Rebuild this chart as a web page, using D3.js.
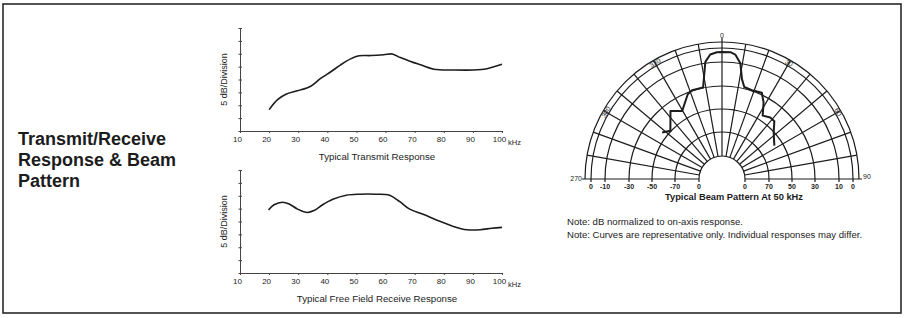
<!DOCTYPE html>
<html>
<head>
<meta charset="utf-8">
<script src="https://cdn.jsdelivr.net/npm/d3@7"></script>
<style>
  body { margin: 0; background: #fff; }
  svg { font-family: "Liberation Sans", Arial, sans-serif; }
  svg text { fill: #1c1c1c; }
  .curve { fill: none; stroke: #1c1c1c; stroke-width: 1.6; stroke-linejoin: round; }
  .grid { fill: none; stroke: #1c1c1c; stroke-width: 1.2; }
  .axis path, .axis line { stroke: #444; }
</style>
</head>
<body>
<svg id="chart" width="904" height="318"></svg>
<script>
// frequency ticks (kHz) and level ticks (5 dB / division) for both response plots
var freqTicks = [10, 20, 30, 40, 50, 60, 70, 80, 90, 100];
var levelTicks = [0, 5, 10, 15, 20, 25, 30, 35, 40];

// typical transmit response
var txFreq  = [20.0, 22.9, 25.8, 29.7, 34.3, 37.7, 41.2, 44.6, 48.0, 50.9, 54.9, 59.4, 62.3, 65.1, 68.6, 72.0, 76.6, 83.4, 90.3, 94.8, 100];
var txLevel = [8.3, 12.2, 14.3, 15.6, 17.4, 20.4, 23.0, 25.7, 28.0, 29.2, 29.3, 29.6, 29.9, 28.5, 27.0, 25.7, 24.0, 23.7, 23.7, 24.2, 25.9];

// typical free field receive response
var rxFreq  = [19.8, 21.7, 24.6, 26.9, 29.8, 33.2, 35.5, 38.4, 41.9, 46.5, 51.1, 56.8, 61.4, 64.9, 68.3, 72.9, 77.5, 83.3, 87.9, 92.5, 96.5, 100];
var rxLevel = [24.5, 26.5, 27.5, 26.8, 24.8, 23.5, 24.3, 26.5, 28.6, 30.2, 30.6, 30.6, 30.2, 27.7, 24.8, 22.8, 20.6, 18.1, 16.8, 16.8, 17.4, 17.7];

// beam pattern at 50 kHz (angle in degrees from axis, level in dB)
var beamAngle = [-52.1, -46.9, -37.1, -30.3, -22.0, -18.6, -11.7, -9.6, -8.1, -5.4, -2.3, 0, 3.8, 6.1, 9.0, 11.3, 13.6, 18.6, 24.8, 28.5, 32.7, 38.1, 42.2, 47.9, 57.5];
var beamLevel = [-44.9, -49.4, -36.6, -42.3, -31.4, -29.4, -29.7, -18.9, -9.1, -4.2, -3.0, -2.8, -2.8, -4.2, -9.8, -22.6, -28.6, -29.4, -28.3, -35.1, -45.4, -42.9, -43.1, -50.3, -56.9];

// polar grid rings (dB) and the labels printed under the baseline
var ringDb = [-90, -70, -50, -30, -10, 0];
var ringLabelsLeft  = ['0', '-70', '-50', '-30', '-10', '0'];
var ringLabelsRight = ['0', '70', '50', '30', '10', '0'];
var angleTicks  = [-60, -30, 0, 30, 60];
var angleLabels = ['300', '330', '0', '30', '60'];

var titleLines = ['Transmit/Receive', 'Response & Beam', 'Pattern'];
var notes = ['Note: dB normalized to on-axis response.',
             'Note: Curves are representative only. Individual responses may differ.'];

var svg = d3.select('#chart');

// outer frame
svg.append('rect')
  .attr('x', 3).attr('y', 4)
  .attr('width', 898).attr('height', 309)
  .attr('fill', 'none')
  .attr('stroke', '#2a2a2a')
  .attr('stroke-width', 1.6);

// left heading
svg.append('text')
  .attr('x', 18).attr('y', 145)
  .style('font-size', '18px')
  .style('font-weight', 'bold')
  .selectAll('tspan')
  .data(titleLines)
  .enter().append('tspan')
    .attr('x', 18)
    .attr('dy', function(d, i) { return i == 0 ? 0 : 21; })
    .text(function(d) { return d; });

// ********** //
//  RESPONSE  //
// ********** //
function drawResponse(freq, level, top, bottom, title) {
  var x = d3.scaleLinear().domain([10, 100]).range([240, 502]);
  var y = d3.scaleLinear().domain([0, 40]).range([bottom, top]);
  var g = svg.append('g');

  // y axis with division ticks
  g.append('g')
    .attr('class', 'axis')
    .attr('transform', 'translate(' + x(10) + ',0)')
    .call(d3.axisRight(y).tickValues(levelTicks).tickSize(2).tickSizeOuter(0).tickFormat(''));
  g.append('g')
    .attr('class', 'axis')
    .attr('transform', 'translate(' + x(10) + ',0)')
    .call(d3.axisLeft(y).tickValues(levelTicks).tickSize(1.5).tickSizeOuter(0).tickFormat(''))
    .select('.domain').remove();

  // x axis
  var xAxis = g.append('g')
    .attr('class', 'axis')
    .attr('transform', 'translate(0,' + bottom + ')')
    .call(d3.axisBottom(x).tickValues(freqTicks).tickSize(2).tickSizeOuter(0));
  xAxis.selectAll('text')
    .attr('dx', -3)
    .attr('dy', 6)
    .style('font-size', '8px')
    .style('font-family', '"Liberation Sans", Arial, sans-serif');
  g.append('text')
    .attr('x', x(100) + 6)
    .attr('y', bottom + 14)
    .style('font-size', '7.5px')
    .text('kHz');

  // y label
  g.append('text')
    .attr('transform', 'translate(' + (x(10) - 13) + ',' + ((top + bottom) / 2) + ') rotate(-90)')
    .attr('text-anchor', 'middle')
    .style('font-size', '9px')
    .text('5 dB/Division');

  // caption
  g.append('text')
    .attr('x', 377)
    .attr('y', bottom + 29)
    .attr('text-anchor', 'middle')
    .style('font-size', '9.7px')
    .text(title);

  var line = d3.line()
    .x(function(d) { return x(d[0]); })
    .y(function(d) { return y(d[1]); })
    .curve(d3.curveCatmullRom);

  g.append('path')
    .attr('class', 'curve')
    .attr('d', line(d3.zip(freq, level)));
}

drawResponse(txFreq, txLevel, 28, 131, 'Typical Transmit Response');
drawResponse(rxFreq, rxLevel, 170, 273, 'Typical Free Field Receive Response');

// ************ //
// BEAM PATTERN //
// ************ //
var cx = 722, cy = 179, outerR = 137;
var r = d3.scaleLinear().domain(ringDb).range([23, 47, 70, 93, 117, 131]);
var rad = Math.PI / 180;
var polar = svg.append('g').attr('transform', 'translate(' + cx + ',' + cy + ')');

// rings
ringDb.map(r).concat([outerR]).forEach(function(rr) {
  polar.append('path')
    .attr('class', 'grid')
    .attr('d', d3.arc().innerRadius(rr).outerRadius(rr).startAngle(-Math.PI / 2).endAngle(Math.PI / 2)());
});

// spokes every 10 degrees
d3.range(-80, 81, 10).forEach(function(a) {
  var s = Math.sin(a * rad), c = Math.cos(a * rad);
  polar.append('line')
    .attr('class', 'grid')
    .attr('x1', r(-90) * s).attr('y1', -r(-90) * c)
    .attr('x2', outerR * s).attr('y2', -(a == 0 ? outerR + 4 : outerR) * c);
});

// baseline (+/-90 deg)
[-1, 1].forEach(function(side) {
  polar.append('line')
    .attr('class', 'grid')
    .attr('x1', side * r(-90)).attr('y1', 0)
    .attr('x2', side * (outerR + 3)).attr('y2', 0);
});

// short ticks and labels under the baseline
ringDb.forEach(function(db, i) {
  [-1, 1].forEach(function(side) {
    polar.append('line')
      .attr('class', 'grid')
      .attr('x1', side * r(db)).attr('y1', 0)
      .attr('x2', side * r(db)).attr('y2', 3);
    polar.append('text')
      .attr('x', side * r(db))
      .attr('y', 9.5)
      .attr('text-anchor', 'middle')
      .style('font-size', '7px')
      .style('font-weight', 'bold')
      .text(side < 0 ? ringLabelsLeft[i] : ringLabelsRight[i]);
  });
});

// angle labels
angleTicks.forEach(function(a, i) {
  var lr = a == 0 ? outerR + 6 : 134;
  polar.append('text')
    .attr('transform', 'translate(' + (lr * Math.sin(a * rad)) + ',' + (-lr * Math.cos(a * rad)) + ') rotate(' + a + ')')
    .attr('text-anchor', 'middle')
    .attr('dy', '0.35em')
    .style('font-size', '7px')
    .text(angleLabels[i]);
});
polar.append('text')
  .attr('x', -outerR - 3).attr('y', 2)
  .attr('text-anchor', 'end')
  .style('font-size', '7px')
  .text('270');
polar.append('text')
  .attr('x', outerR + 4).attr('y', 0)
  .style('font-size', '7px')
  .text('90');

// beam curve
var beamLine = d3.lineRadial()
  .angle(function(d) { return d[0] * rad; })
  .radius(function(d) { return r(d[1]); })
  .curve(d3.curveLinear);

polar.append('path')
  .attr('class', 'curve')
  .style('stroke-width', 2)
  .attr('d', beamLine(d3.zip(beamAngle, beamLevel)));

polar.append('text')
  .attr('x', 12)
  .attr('y', 21)
  .attr('text-anchor', 'middle')
  .style('font-size', '9.3px')
  .style('font-weight', 'bold')
  .text('Typical Beam Pattern At 50 kHz');

// notes
svg.selectAll('.note')
  .data(notes)
  .enter().append('text')
    .attr('class', 'note')
    .attr('x', 567)
    .attr('y', function(d, i) { return 225 + i * 13; })
    .style('font-size', '9.6px')
    .text(function(d) { return d; });
</script>
</body>
</html>
